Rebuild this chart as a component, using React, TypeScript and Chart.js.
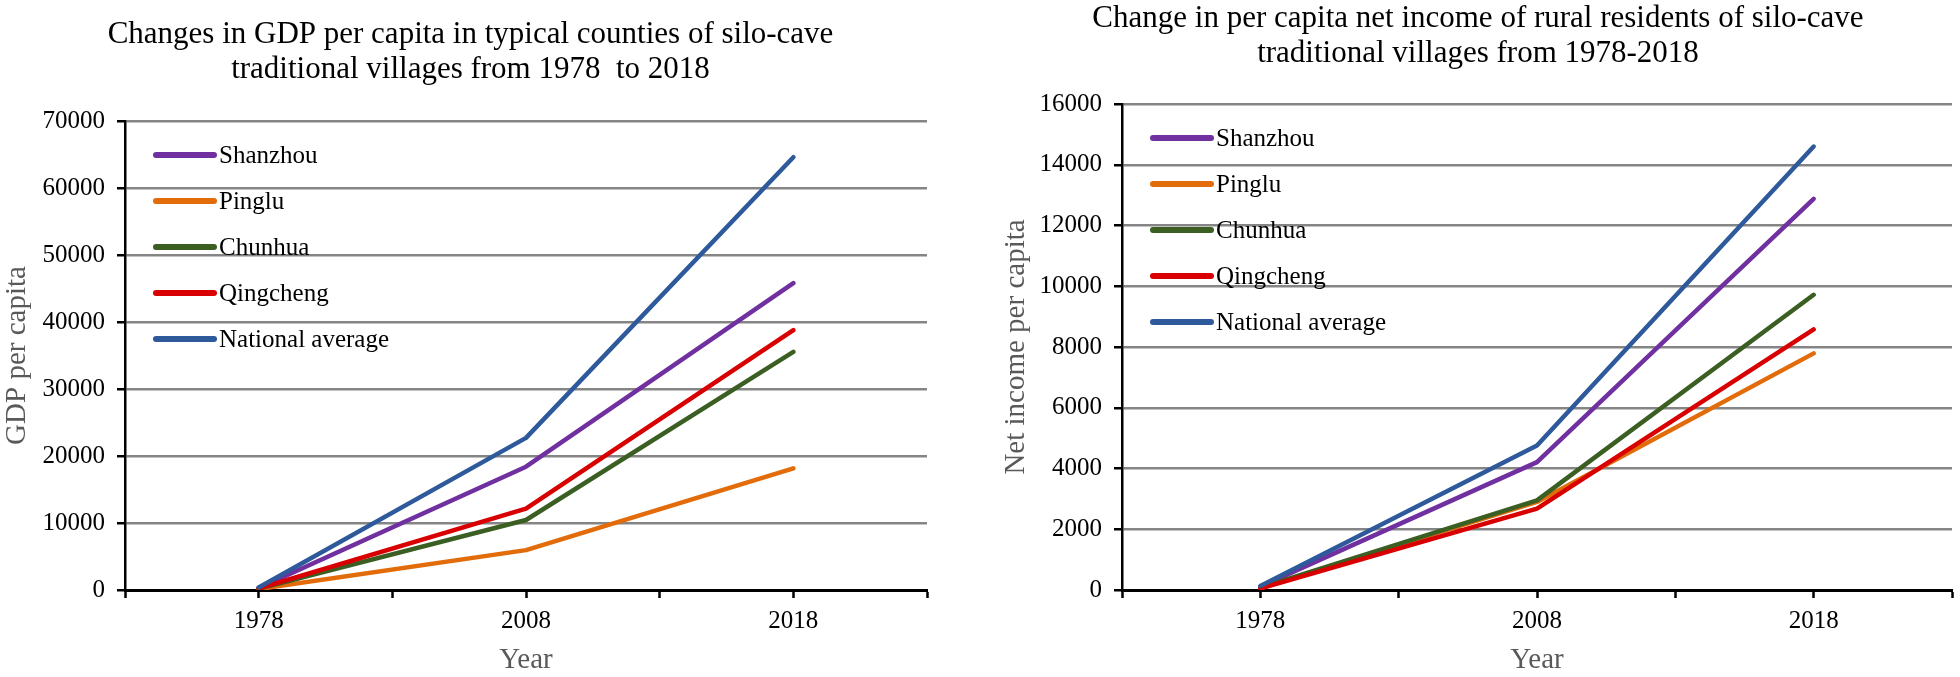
import React, { useEffect, useRef } from "react";
import { Chart, registerables } from "chart.js";

Chart.register(...registerables);

const years = ["1978", "2008", "2018"];
const seriesNames = ["Shanzhou", "Pinglu", "Chunhua", "Qingcheng", "National average"];
const seriesColors = ["#7030A0", "#E36C0A", "#3B5E22", "#D80000", "#2E5A9C"];

const gdpShanzhou = [290, 18400, 45800];
const gdpPinglu = [150, 5950, 18150];
const gdpChunhua = [200, 10450, 35550];
const gdpQingcheng = [220, 12150, 38800];
const gdpNational = [385, 22700, 64600];

const incShanzhou = [110, 4210, 12880];
const incPinglu = [60, 2900, 7790];
const incChunhua = [80, 2950, 9720];
const incQingcheng = [50, 2680, 8580];
const incNational = [134, 4760, 14600];

const leftTitle = [
  "Changes in GDP per capita in typical counties of silo-cave",
  "traditional villages from 1978  to 2018",
];
const rightTitle = [
  "Change in per capita net income of rural residents of silo-cave",
  "traditional villages from 1978-2018",
];

const FONT = "'Liberation Serif', 'Times New Roman', serif";

// category slots: an empty slot between each year and at both ends
const slotLabels: string[] = ["", ...years.flatMap((y) => [y, ""])];
const toSlots = (vals: number[]) => [null, ...vals.flatMap((v) => [v, null])];

const insideLegend = {
  id: "insideLegend",
  afterDatasetsDraw(chart: any, _args: any, opts: any) {
    const { ctx, chartArea } = chart;
    ctx.save();
    chart.data.datasets.forEach((ds: any, i: number) => {
      const y = chartArea.top + opts.first + i * opts.step;
      ctx.beginPath();
      ctx.lineCap = "round";
      ctx.lineWidth = 6;
      ctx.strokeStyle = ds.borderColor;
      ctx.moveTo(chartArea.left + opts.x0, y);
      ctx.lineTo(chartArea.left + opts.x1, y);
      ctx.stroke();
      ctx.fillStyle = "#000";
      ctx.font = `25px ${FONT}`;
      ctx.textBaseline = "middle";
      ctx.textAlign = "left";
      ctx.fillText(ds.label, chartArea.left + opts.tx, y + 1);
    });
    ctx.restore();
  },
};

function makeConfig(
  series: number[][],
  title: string[],
  yTitle: string,
  yMax: number,
  yStep: number,
  p: { padLeft: number; padRight: number; yWidth: number; titleTop: number; titleBottom: number; yTitlePad: number }
): any {
  return {
    type: "line",
    data: {
      labels: slotLabels,
      datasets: series.map((vals, i) => ({
        label: seriesNames[i],
        data: toSlots(vals),
        borderColor: seriesColors[i],
        backgroundColor: seriesColors[i],
        borderWidth: 4.5,
        borderCapStyle: "round",
        borderJoinStyle: "round",
        pointRadius: 0,
        pointHoverRadius: 0,
        spanGaps: true,
        tension: 0,
        order: series.length - i,
      })),
    },
    options: {
      responsive: false,
      animation: false,
      devicePixelRatio: 1,
      layout: { padding: { left: p.padLeft, right: p.padRight, top: 0, bottom: 0 } },
      plugins: {
        legend: { display: false },
        tooltip: { enabled: false },
        title: {
          display: true,
          text: title,
          color: "#000",
          font: { family: FONT, size: 31, weight: "normal", lineHeight: 35 / 31 },
          padding: { top: p.titleTop, bottom: p.titleBottom },
        },
        insideLegend: { first: 34, step: 46, x0: 31, x1: 89, tx: 94 },
      },
      scales: {
        x: {
          type: "category",
          offset: false,
          grid: {
            drawOnChartArea: false,
            drawTicks: true,
            tickLength: 8,
            tickColor: "#000",
            tickWidth: 2.5,
          },
          border: { display: true, color: "#000", width: 3 },
          ticks: {
            autoSkip: false,
            maxRotation: 0,
            color: "#000",
            padding: 8,
            font: { family: FONT, size: 25, lineHeight: 1.2 },
          },
          title: {
            display: true,
            text: "Year",
            color: "#595959",
            font: { family: FONT, size: 29, lineHeight: 1 },
            padding: { top: 0, bottom: 2 },
          },
          afterFit(scale: any) {
            scale.height = 87;
          },
        },
        y: {
          min: 0,
          max: yMax,
          grid: {
            color: "#858585",
            lineWidth: 2.5,
            tickLength: 8,
            tickColor: "#000",
            tickWidth: 2.5,
          },
          border: { display: true, color: "#000", width: 2.5 },
          ticks: {
            stepSize: yStep,
            color: "#000",
            padding: 12,
            font: { family: FONT, size: 25 },
            callback: (v: any) => String(v),
          },
          title: {
            display: true,
            text: yTitle,
            color: "#595959",
            font: { family: FONT, size: 29, lineHeight: 1 },
            padding: { top: p.yTitlePad, bottom: 0 },
          },
          afterFit(scale: any) {
            scale.width = p.yWidth;
          },
        },
      },
    },
    plugins: [insideLegend],
  };
}

function ChartCanvas({ config, width, height, left }: { config: any; width: number; height: number; left: number }) {
  const ref = useRef<HTMLCanvasElement | null>(null);
  useEffect(() => {
    if (!ref.current) return;
    const chart = new Chart(ref.current, config);
    return () => chart.destroy();
  }, [config]);
  return (
    <canvas
      ref={ref}
      width={width}
      height={height}
      style={{ position: "absolute", left, top: 0, width, height }}
    />
  );
}

const leftConfig = makeConfig(
  [gdpShanzhou, gdpPinglu, gdpChunhua, gdpQingcheng, gdpNational],
  leftTitle,
  "GDP per capita",
  70000,
  10000,
  { padLeft: 14, padRight: 33, yWidth: 111, titleTop: 17, titleBottom: 34, yTitlePad: -11 }
);

const rightConfig = makeConfig(
  [incShanzhou, incPinglu, incChunhua, incQingcheng, incNational],
  rightTitle,
  "Net income per capita",
  16000,
  2000,
  { padLeft: 42, padRight: 6, yWidth: 120, titleTop: 1, titleBottom: 33, yTitlePad: 0 }
);

export default function App() {
  return (
    <div style={{ position: "absolute", left: 0, top: 0, width: 1960, height: 677, background: "#fff" }}>
      <ChartCanvas config={leftConfig} width={960} height={677} left={0} />
      <ChartCanvas config={rightConfig} width={1000} height={677} left={960} />
    </div>
  );
}
